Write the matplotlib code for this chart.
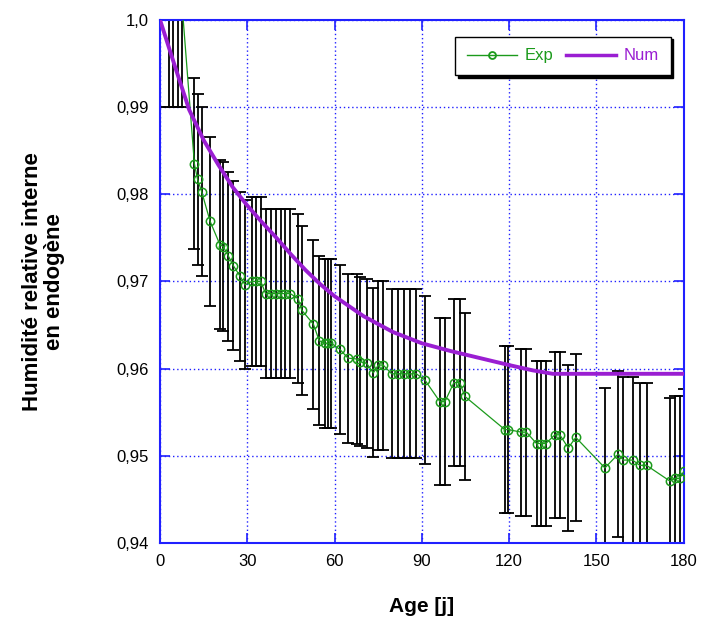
import numpy as np
import matplotlib.pyplot as plt
from matplotlib.lines import Line2D

plt.rcParams['font.family'] = ['Liberation Sans', 'DejaVu Sans']

# --- Experimental data (age in days, relative humidity) ---
exp_age = [0, 3, 4.5, 6, 7.5,
           11.8, 12.9, 14.3, 17.2, 20.6, 21.7, 23.5, 25.2, 27.5, 29.2,
           31.5, 33.0, 34.6, 36.3, 38.0, 39.7, 41.4, 43.1, 44.8,
           47.5, 48.7, 52.7, 54.7, 56.7, 57.8, 58.9, 61.8, 64.6, 67.6,
           68.7, 71.0, 73.3, 75.0, 76.7, 79.6, 81.7, 83.9, 86.0, 88.1,
           91.0, 96.2, 97.9, 101.0, 103.0, 104.8, 118.5, 119.7, 124.2,
           125.9, 129.4, 131.0, 132.6, 135.7, 137.4, 140.3, 142.9, 152.9,
           157.5, 159.2, 162.4, 164.9, 167.2, 175.2, 176.9, 178.6, 180.0]
exp_hr = [1.002, 1.002, 1.002, 1.002, 1.002,
          0.9835, 0.9817, 0.9803, 0.9769, 0.9742, 0.9740, 0.9729, 0.9718, 0.9706, 0.9696,
          0.9700, 0.9700, 0.9700, 0.9686, 0.9686, 0.9686, 0.9686, 0.9686, 0.9686,
          0.9680, 0.9667, 0.9651, 0.9632, 0.9629, 0.9629, 0.9629, 0.9622, 0.9612, 0.9611,
          0.9608, 0.9606, 0.9595, 0.9604, 0.9604, 0.9594, 0.9594, 0.9594, 0.9594, 0.9594,
          0.9587, 0.9562, 0.9562, 0.9584, 0.9584, 0.9568, 0.9530, 0.9530, 0.9527,
          0.9527, 0.9514, 0.9514, 0.9514, 0.9524, 0.9524, 0.9509, 0.9521, 0.9486,
          0.9502, 0.9495, 0.9495, 0.9489, 0.9489, 0.9471, 0.9474, 0.9474, 0.9482]
exp_err = [0.0120, 0.0120, 0.0120, 0.0120, 0.0120,
           0.0098, 0.0098, 0.0097, 0.0097, 0.0097, 0.0097, 0.0097, 0.0097, 0.0097, 0.0097,
           0.0097, 0.0097, 0.0097, 0.0097, 0.0097, 0.0097, 0.0097, 0.0097, 0.0097,
           0.0097, 0.0097, 0.0097, 0.0097, 0.0097, 0.0097, 0.0097, 0.0097, 0.0097, 0.0097,
           0.0097, 0.0097, 0.0097, 0.0097, 0.0097, 0.0097, 0.0097, 0.0097, 0.0097, 0.0097,
           0.0096, 0.0096, 0.0096, 0.0096, 0.0096, 0.0096, 0.0096, 0.0096, 0.0096,
           0.0096, 0.0095, 0.0095, 0.0095, 0.0095, 0.0095, 0.0095, 0.0096, 0.0092,
           0.0095, 0.0095, 0.0095, 0.0095, 0.0095, 0.0095, 0.0095, 0.0095, 0.0095]

# --- Numerical model ---
num_age = [0, 5, 10, 15, 20, 25, 30, 35, 40, 45, 50, 55, 60, 70, 80, 90, 100,
           110, 120, 128, 135, 150, 165, 180]
num_hr = [1.0, 0.9948, 0.9897, 0.9862, 0.9834, 0.9808, 0.9787, 0.9768, 0.9750,
          0.9731, 0.9713, 0.9697, 0.9683, 0.9660, 0.9642, 0.9629, 0.9620,
          0.9612, 0.9604, 0.9598, 0.9594, 0.9594, 0.9594, 0.9594]

xticks = [0, 30, 60, 90, 120, 150, 180]
yticks = [0.94, 0.95, 0.96, 0.97, 0.98, 0.99, 1.0]
ytick_labels = ['0,94', '0,95', '0,96', '0,97', '0,98', '0,99', '1,0']

green = '#1b9a1b'
purple = '#9a1ed2'
blue = '#2020ff'

fig = plt.figure(figsize=(7.02, 6.24), dpi=100)
ax = fig.add_axes([0.228, 0.13, 0.746, 0.838])

ax.errorbar(exp_age, exp_hr, yerr=exp_err, fmt='none', ecolor='black',
            elinewidth=1.3, capsize=4, capthick=1.3, zorder=2)
ax.plot(exp_age, exp_hr, '-o', color=green, lw=0.9, ms=6, mfc='none',
        mec=green, mew=1.1, zorder=3)
ax.plot(num_age, num_hr, '-', color=purple, lw=2.8, zorder=4)

ax.set_xlim(0, 180)
ax.set_ylim(0.94, 1.0)
ax.set_xticks(xticks)
ax.set_yticks(yticks)
ax.set_yticklabels(ytick_labels)
ax.tick_params(direction='in', length=7, width=1.2, color=blue,
               top=True, right=True, labelsize=12, pad=8)
ax.grid(True, color=blue, linestyle=(0, (1, 2)), linewidth=1.0)
for s in ax.spines.values():
    s.set_color(blue)
    s.set_linewidth(1.5)

ax.set_xlabel('Age [j]', fontsize=15, fontweight='bold')
ax.xaxis.set_label_coords(0.5, -0.104)
ax.set_ylabel('Humidité relative interne\nen endogène', fontsize=16,
              fontweight='bold', linespacing=1.05)
ax.yaxis.label.set_va('center')
ax.yaxis.set_label_coords(-0.222, 0.5)

handles = [Line2D([], [], color=green, lw=1, marker='o', ms=5, mfc='none', mec=green, mew=1.3),
           Line2D([], [], color=purple, lw=2.5)]
leg = ax.legend(handles, ['Exp', 'Num'], loc='upper right', ncol=2,
                bbox_to_anchor=(0.975, 0.968), fontsize=12, frameon=True,
                fancybox=False, shadow={'color': 'black', 'alpha': 1},
                edgecolor='black', handlelength=3.0, handletextpad=0.45,
                columnspacing=0.8, borderpad=0.7, borderaxespad=0)
leg.get_frame().set_linewidth(1.0)
for txt, c in zip(leg.get_texts(), [green, purple]):
    txt.set_color(c)

fig.savefig('out.png', dpi=100)
